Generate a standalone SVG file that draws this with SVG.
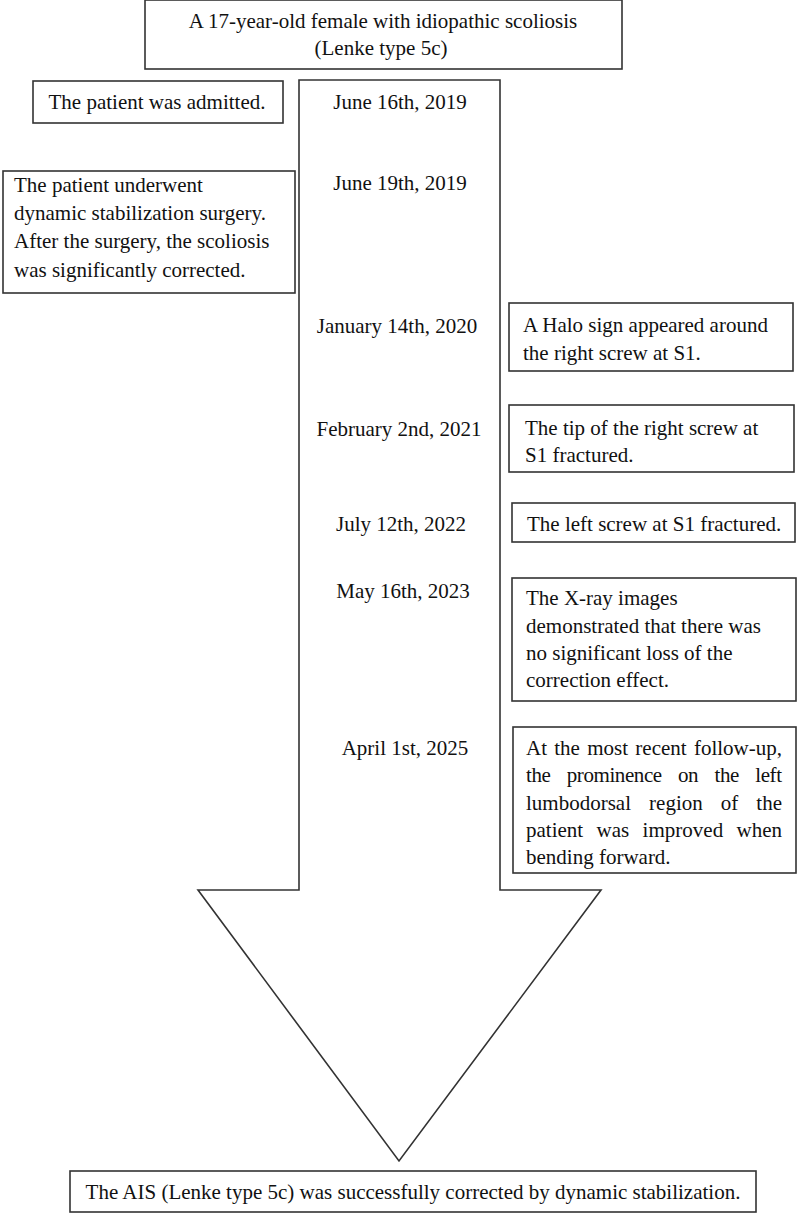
<svg xmlns="http://www.w3.org/2000/svg" width="797" height="1214" viewBox="0 0 797 1214">
<style>
  .box{fill:#fff;stroke:#333;stroke-width:1.6}
  .arrow{fill:#fff;stroke:#333;stroke-width:1.6;stroke-linejoin:miter}
  text{font-family:"Liberation Serif","Times New Roman",serif;font-size:21px;fill:#111}
  .c{text-anchor:middle}
</style>
<rect width="797" height="1214" fill="#fff"/>
<g id="connectors">
  <polygon class="arrow" points="299,80 500,80 500,890 601,890 399,1161 198,890 299,890"/>
</g>
<g id="dates">
  <text class="c" x="400" y="109">June 16th, 2019</text>
  <text class="c" x="400" y="190">June 19th, 2019</text>
  <text class="c" x="397" y="333">January 14th, 2020</text>
  <text class="c" x="399" y="436">February 2nd, 2021</text>
  <text class="c" x="401" y="531">July 12th, 2022</text>
  <text class="c" x="403" y="598">May 16th, 2023</text>
  <text class="c" x="405" y="755">April 1st, 2025</text>
</g>
<g id="start">
  <rect class="box" x="145" y="0" width="477" height="69"/>
  <text class="c" x="383" y="28">A 17-year-old female with idiopathic scoliosis</text>
  <text class="c" x="381" y="55">(Lenke type 5c)</text>
</g>
<g id="admitted">
  <rect class="box" x="33" y="81" width="250" height="42"/>
  <text class="c" x="157" y="109">The patient was admitted.</text>
</g>
<g id="surgery">
  <rect class="box" x="3" y="171" width="292" height="122"/>
  <text x="14" y="192">The patient underwent</text>
  <text x="14" y="220">dynamic stabilization surgery.</text>
  <text x="14" y="248">After the surgery, the scoliosis</text>
  <text x="14" y="277">was significantly corrected.</text>
</g>
<g id="halo">
  <rect class="box" x="509" y="303" width="284" height="68"/>
  <text x="523" y="332">A Halo sign appeared around</text>
  <text x="523" y="360">the right screw at S1.</text>
</g>
<g id="tip-fracture">
  <rect class="box" x="509" y="405" width="285" height="67"/>
  <text x="525" y="435">The tip of the right screw at</text>
  <text x="525" y="462">S1 fractured.</text>
</g>
<g id="left-fracture">
  <rect class="box" x="512" y="503" width="283" height="39"/>
  <text x="527" y="531">The left screw at S1 fractured.</text>
</g>
<g id="xray">
  <rect class="box" x="512" y="578" width="284" height="123"/>
  <text x="526" y="605">The X-ray images</text>
  <text x="526" y="633">demonstrated that there was</text>
  <text x="526" y="660">no significant loss of the</text>
  <text x="526" y="687">correction effect.</text>
</g>
<g id="followup">
  <rect class="box" x="513" y="727" width="283" height="146"/>
  <text x="526" y="755" word-spacing="2" textLength="256" lengthAdjust="spacing">At the most recent follow-up,</text>
  <text x="526" y="782" word-spacing="11.5" textLength="256" lengthAdjust="spacing">the prominence on the left</text>
  <text x="526" y="810" word-spacing="12.8" textLength="256" lengthAdjust="spacing">lumbodorsal region of the</text>
  <text x="526" y="837" word-spacing="8.1" textLength="256" lengthAdjust="spacing">patient was improved when</text>
  <text x="526" y="864">bending forward.</text>
</g>
<g id="result">
  <rect class="box" x="70" y="1171" width="686" height="41"/>
  <text class="c" x="413" y="1199">The AIS (Lenke type 5c) was successfully corrected by dynamic stabilization.</text>
</g>
</svg>
